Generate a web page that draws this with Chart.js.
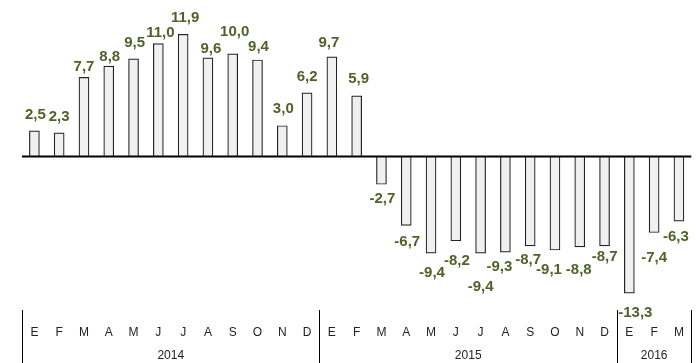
<!DOCTYPE html>
<html lang="es">
<head>
  <meta charset="UTF-8">
  <title>Variación mensual</title>
  <script src="https://cdn.jsdelivr.net/npm/chart.js"></script>
  <style>
    html, body { margin: 0; padding: 0; background: #fff; }
    #wrap { width: 699px; height: 363px; }
  </style>
</head>
<body>
<div id="wrap"><canvas id="chart" width="699" height="363"></canvas></div>
<script>
// data
const months = ['E','F','M','A','M','J','J','A','S','O','N','D',
                'E','F','M','A','M','J','J','A','S','O','N','D',
                'E','F','M'];
const years = ['2014', '2015', '2016'];
const monthsPerYear = [12, 12, 3];
const values = [2.5, 2.3, 7.7, 8.8, 9.5, 11.0, 11.9, 9.6, 10.0, 9.4, 3.0, 6.2,
                9.7, 5.9, -2.7, -6.7, -9.4, -8.2, -9.4, -9.3, -8.7, -9.1, -8.8, -8.7,
                -13.3, -7.4, -6.3];

// label placement tweaks (px away from bar end, and sideways)
const labelGap = [16, 16, 11, 9, 16, 11, 16, 9, 22, 13, 17, 16,
                  14, 17, 15, 17, 20, 20, 34, 15, 14, 20, 23, 11,
                  20, 25, 16];
const labelShift = [1, 0, 0, 1, 1, 2, 2, 3, 2, 1, 1, 0,
                    -3, 2, 1, 1, 1, 1, 0, -6, -2, -6, -1, 0,
                    6, 0, -3];

const green = '#4f6228';

const barLabels = {
  id: 'barLabels',
  afterDatasetsDraw(chart) {
    const ctx = chart.ctx;
    const y = chart.scales.y;
    const area = chart.chartArea;
    // zero line
    ctx.save();
    ctx.strokeStyle = '#000';
    ctx.lineWidth = 2;
    ctx.beginPath();
    ctx.moveTo(area.left, y.getPixelForValue(0));
    ctx.lineTo(area.right, y.getPixelForValue(0));
    ctx.stroke();

    ctx.fillStyle = green;
    ctx.font = 'bold 15px "Liberation Sans", Arial, sans-serif';
    ctx.textAlign = 'center';
    ctx.textBaseline = 'middle';
    chart.getDatasetMeta(0).data.forEach((bar, i) => {
      const v = values[i];
      const txt = v.toFixed(1).replace('.', ',');
      const ty = v >= 0 ? bar.y - labelGap[i] : bar.y + labelGap[i];
      ctx.fillText(txt, bar.x + labelShift[i], ty);
    });
    ctx.restore();
  },
  afterDraw(chart) {
    const ctx = chart.ctx;
    const x = chart.scales.x;
    const area = chart.chartArea;
    ctx.save();
    ctx.strokeStyle = '#000';
    ctx.lineWidth = 1;
    ctx.fillStyle = '#222';
    ctx.font = '12px "Liberation Sans", Arial, sans-serif';
    ctx.textAlign = 'center';
    ctx.textBaseline = 'middle';
    let start = 0;
    const edges = [area.left];
    monthsPerYear.forEach((n, k) => {
      const end = start + n - 1;
      const right = end === months.length - 1
        ? area.right
        : (x.getPixelForValue(end) + x.getPixelForValue(end + 1)) / 2;
      edges.push(right);
      ctx.fillText(years[k], (edges[k] + right) / 2, 356);
      start += n;
    });
    edges.forEach(px => {
      const p = Math.round(px) + 0.5;
      ctx.beginPath();
      ctx.moveTo(p, 310);
      ctx.lineTo(p, 363);
      ctx.stroke();
    });
    ctx.restore();
  }
};

new Chart(document.getElementById('chart'), {
  type: 'bar',
  data: {
    labels: months,
    datasets: [{
      data: values,
      backgroundColor: '#f0f0f0',
      borderColor: '#222',
      borderWidth: 1.2,
      barThickness: 10
    }]
  },
  options: {
    responsive: false,
    animation: false,
    layout: { padding: { left: 22, right: 4, top: 23, bottom: 8 } },
    plugins: { legend: { display: false }, tooltip: { enabled: false } },
    scales: {
      x: {
        grid: { display: false, drawTicks: false },
        border: { display: false },
        ticks: {
          color: '#222',
          padding: 15,
          autoSkip: false,
          maxRotation: 0,
          font: { size: 12, family: '"Liberation Sans", Arial, sans-serif' }
        }
      },
      y: {
        display: false,
        min: -15,
        max: 13
      }
    }
  },
  plugins: [barLabels]
});
</script>
</body>
</html>
